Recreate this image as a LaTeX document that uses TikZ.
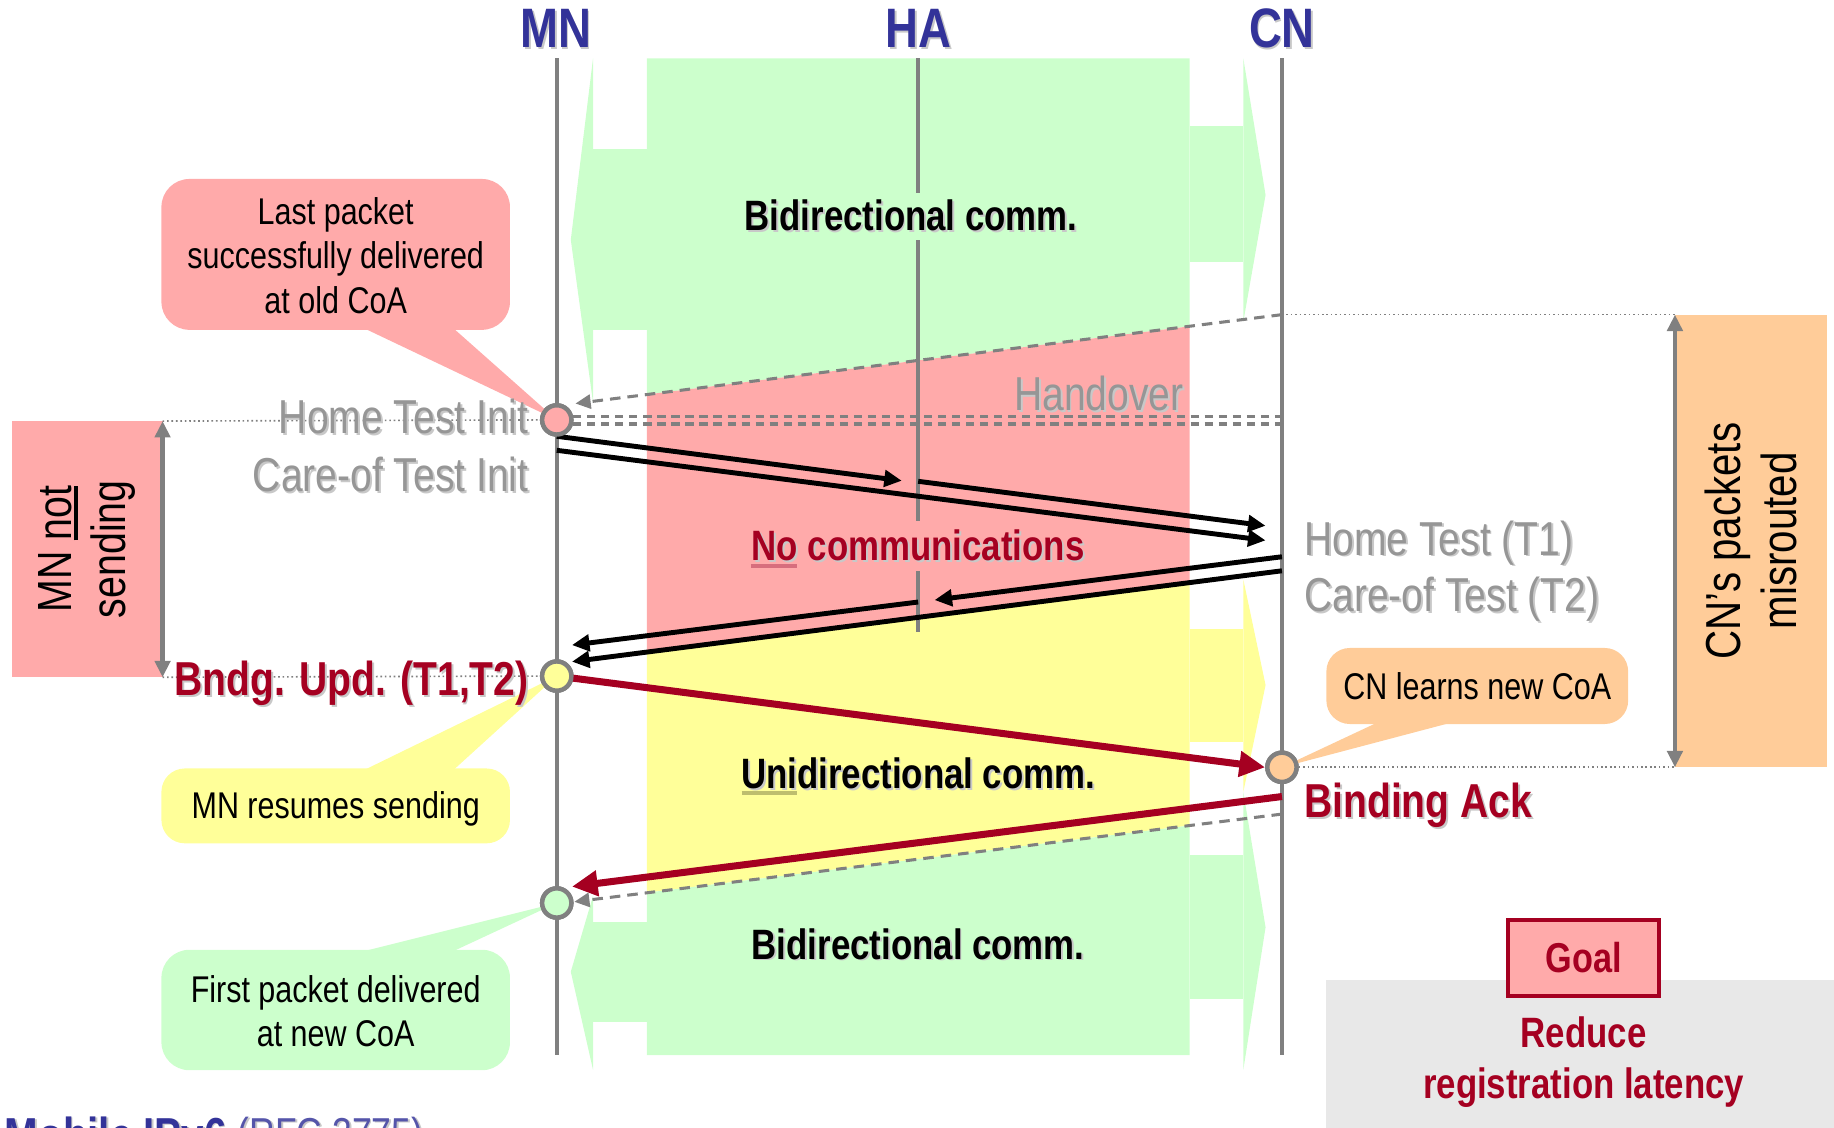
\documentclass[tikz,border=0pt]{standalone}
\usepackage{fontspec}
\setmainfont{Liberation Sans}[FakeStretch=0.82]
\usetikzlibrary{arrows.meta}

\definecolor{bandgreen}{RGB}{204,255,204}
\definecolor{bandred}{RGB}{255,170,170}
\definecolor{bandyellow}{RGB}{255,255,153}
\definecolor{bandorange}{RGB}{255,204,153}
\definecolor{darkred}{RGB}{165,0,33}
\definecolor{linegray}{RGB}{128,128,128}
\definecolor{labelgray}{RGB}{150,150,150}
\definecolor{shadegray}{RGB}{200,200,200}
\definecolor{headblue}{RGB}{51,51,153}
\definecolor{softblue}{RGB}{85,85,170}
\definecolor{goalgray}{RGB}{232,232,232}
\definecolor{nounder}{RGB}{215,110,125}
\definecolor{uniunder}{RGB}{190,190,110}

\newcommand\fsz[2]{\fontsize{#1}{#2}\selectfont}
% text with a soft drop shadow behind it
\newcommand\shadowtext[2]{\makebox[0pt][l]{\hspace{1.6pt}\raisebox{-1.6pt}{\textcolor{#1}{#2}}}#2}
% heavy underline
\newcommand\thickul[1]{\setbox0\hbox{#1}\rlap{\rule[-5pt]{\wd0}{2.8pt}}\box0}

\tikzset{
  lifeline/.style={draw=linegray, line width=3.6pt},
  msg/.style={line width=4.2pt, -{Triangle[length=15pt,width=14pt]}},
  redmsg/.style={draw=darkred, line width=6pt, -{Triangle[length=22pt,width=21pt]}},
  graydash/.style={draw=linegray, line width=2.6pt, dash pattern=on 9pt off 6pt, -{Triangle[length=13pt,width=12pt]}},
  dbldash/.style={draw=linegray, line width=2.6pt, dash pattern=on 7pt off 5pt},
  guide/.style={draw=linegray, line width=1.4pt, dash pattern=on 1.4pt off 2.4pt},
  span/.style={draw=linegray, line width=3.6pt, {Triangle[length=14pt,width=13pt]}-{Triangle[length=14pt,width=13pt]}},
  event/.style={circle, draw=linegray, line width=3.8pt, minimum size=25pt, inner sep=0pt},
  head/.style={text=headblue, font=\fsz{47.5}{52}\bfseries, inner sep=0pt, anchor=base},
  grayl/.style={text=labelgray, font=\fsz{40.7}{48}, inner sep=0pt},
  boldl/.style={font=\fsz{36.3}{44}\bfseries, inner sep=0pt, anchor=base},
  redl/.style={text=darkred, font=\fsz{40.7}{48}\bfseries, inner sep=0pt},
  callt/.style={font=\fsz{31.8}{38}, align=center, inner sep=0pt},
  sidebox/.style={rotate=90, font=\fsz{41}{46}, align=center, inner sep=0pt},
}

\begin{document}
\begin{tikzpicture}[x=1pt,y=-1pt]
\useasboundingbox (0,0) rectangle (1568,964);

% ---------- communication phases ----------
% upper bidirectional band
\fill[bandgreen] (553,50) -- (1017,50) -- (1017,279) -- (553,337.3) -- cycle;
\fill[bandgreen] (507,127) rectangle (553,282);
\fill[bandgreen] (507,50) -- (488,205) -- (507,344) -- cycle;
\fill[bandgreen] (1017,107.7) rectangle (1063,223.7);
\fill[bandgreen] (1063,50) -- (1082,166.7) -- (1063,275) -- cycle;
% no communication
\fill[bandred] (553,337.3) -- (1017,279) -- (1017,497.9) -- (553,557.5) -- cycle;
% unidirectional band
\fill[bandyellow] (553,557.5) -- (1017,497.9) -- (1017,705.8) -- (553,763.2) -- cycle;
\fill[bandyellow] (1017,537.5) rectangle (1063,634.7);
\fill[bandyellow] (1063,495.5) -- (1082,585.7) -- (1063,677) -- cycle;
% lower bidirectional band
\fill[bandgreen] (553,763.2) -- (1017,705.8) -- (1017,902) -- (553,902) -- cycle;
\fill[bandgreen] (507,788) rectangle (553,873.5);
\fill[bandgreen] (507,766) -- (488,830.8) -- (507,914.6) -- cycle;
\fill[bandgreen] (1017,731) rectangle (1063,854.5);
\fill[bandgreen] (1063,677) -- (1082,792.8) -- (1063,914.6) -- cycle;

% ---------- lifelines ----------
\coordinate (mnT) at (476,50);  \coordinate (mnB) at (476,902);
\coordinate (haT) at (785,50);  \coordinate (haB) at (785,540);
\coordinate (cnT) at (1096,50); \coordinate (cnB) at (1096,902);
\draw[lifeline] (mnT) -- (mnB);
\draw[lifeline] (haT) -- (haB);
\draw[lifeline] (cnT) -- (cnB);

\node[head] (mnh) at (475,41) {\shadowtext{shadegray}{MN}};
\node[head] (hah) at (785,41) {\shadowtext{shadegray}{HA}};
\node[head] (cnh) at (1096,41) {\shadowtext{shadegray}{CN}};

% ---------- phase labels ----------
\node[boldl, fill=bandgreen, inner xsep=4pt, inner ysep=6pt] (bidiA) at (779,197) {\shadowtext{shadegray}{Bidirectional comm.}};
\node[boldl, text=darkred, fill=bandred, inner xsep=4pt, inner ysep=7pt] (nocomm) at (785,479) {\shadowtext{shadegray}{No communications}};
\draw[nounder, line width=3pt] (642,484) -- (681,484);
\node[boldl] (unidi) at (785,674) {\shadowtext{shadegray}{Unidirectional comm.}};
\draw[uniunder, line width=3pt] (634,678) -- (681,678);
\node[boldl] (bidiB) at (785,820) {\shadowtext{shadegray}{Bidirectional comm.}};

% ---------- side spans ----------
\node[sidebox, fill=bandred, minimum width=219pt, minimum height=129pt] (notsend) at (74.5,469.5) {MN \thickul{not}\\sending};
\node[sidebox, fill=bandorange, minimum width=387pt, minimum height=130pt, font=\fsz{42}{48}] (misroute) at (1497,462.5) {CN’s packets\\misrouted};

% ---------- events on the lifelines ----------
\node[event, fill=bandred]    (ev1) at (476,359) {};
\node[event, fill=bandyellow] (ev2) at (476,578) {};
\node[event, fill=bandorange] (ev3) at (1096,656) {};
\node[event, fill=bandgreen]  (ev4) at (476,772) {};

% guide lines
\coordinate (lspanT) at (139,360);  \coordinate (lspanB) at (139,579);
\coordinate (rspanT) at (1432,269); \coordinate (rspanB) at (1432,656);
\coordinate (cnHo) at (1096,269);
\draw[guide] (lspanT) -- (ev1.west);
\draw[guide] (lspanB) -- (ev2.west);
\draw[guide] (cnHo) -- (rspanT);
\draw[guide] (ev3.east) -- (rspanB);
\draw[span] (lspanT) -- (lspanB);
\draw[span] (rspanT) -- (rspanB);

% handover moment
\coordinate (hoEnd) at (492,345);
\draw[graydash] (cnHo) -- (hoEnd);
\coordinate (ddA1) at (490,356); \coordinate (ddB1) at (1096,356);
\coordinate (ddA2) at (490,362.5); \coordinate (ddB2) at (1096,362.5);
\draw[dbldash] (ddA1) -- (ddB1);
\draw[dbldash] (ddA2) -- (ddB2);

% ---------- return routability ----------
\coordinate (hotiS) at (476,373);   \coordinate (hotiH) at (771,411);
\coordinate (hotiR) at (785,411.5); \coordinate (hotiE) at (1082,449.5);
\draw[msg] (hotiS) -- (hotiH);
\draw[msg] (hotiR) -- (hotiE);
\coordinate (cotiS) at (476,385);   \coordinate (cotiE) at (1082,462);
\draw[msg] (cotiS) -- (cotiE);
\coordinate (hotS) at (1096,476);   \coordinate (hotH) at (799,513);
\coordinate (hotR) at (785,514.7);  \coordinate (hotE) at (489,551.5);
\draw[msg] (hotS) -- (hotH);
\draw[msg] (hotR) -- (hotE);
\coordinate (cotS) at (1096,488);   \coordinate (cotE) at (489,565.7);
\draw[msg] (cotS) -- (cotE);

% ---------- binding ----------
\draw[redmsg] (ev2.center) -- (ev3.west);
\coordinate (baS) at (1096,681); \coordinate (baE) at (489,758);
\draw[redmsg] (baS) -- (baE);
\coordinate (dataS) at (1096,696); \coordinate (dataE) at (491,771);
\draw[graydash] (dataS) -- (dataE);

% ---------- callouts ----------
\fill[bandred, rounded corners=24pt] (138,153) rectangle (436,282);
\fill[bandred] (312,281) -- (388,281) -- (ev1.center) -- cycle;
\node[callt] (lastpkt) at (287,218.5) {Last packet\\successfully delivered\\at old CoA};

\fill[bandyellow, rounded corners=20pt] (138,657) rectangle (436,721);
\fill[bandyellow] (312,658) -- (388,658) -- (ev2.center) -- cycle;
\node[callt, anchor=base] (resume) at (287,700) {MN resumes sending};

\fill[bandgreen, rounded corners=24pt] (138,812) rectangle (436,915);
\fill[bandgreen] (312,813) -- (388,813) -- (ev4.center) -- cycle;
\node[callt] (firstpkt) at (287,864.4) {First packet delivered\\at new CoA};

\fill[bandorange, rounded corners=20pt] (1134,554) rectangle (1392,619);
\fill[bandorange] (1177,618) -- (1240,618) -- (ev3.center) -- cycle;
\node[callt, anchor=base] (learn) at (1263,598) {CN learns new CoA};

% redraw the event markers above the callout pointers
\node[event, fill=bandred]    at (ev1) {};
\node[event, fill=bandyellow] at (ev2) {};
\node[event, fill=bandorange] at (ev3) {};
\node[event, fill=bandgreen]  at (ev4) {};

% ---------- message labels ----------
\node[grayl, anchor=base east] (lhoti) at (452,371) {\shadowtext{shadegray}{Home Test Init}};
\node[grayl, anchor=base east] (lcoti) at (452,420) {\shadowtext{shadegray}{Care-of Test Init}};
\node[grayl, anchor=base east] (lho) at (1012,351) {\shadowtext{shadegray}{Handover}};
\node[grayl, anchor=base west] (lhot) at (1115,474.5) {\shadowtext{shadegray}{Home Test (T1)}};
\node[grayl, anchor=base west] (lcot) at (1115,523) {\shadowtext{shadegray}{Care-of Test (T2)}};
\node[redl, anchor=base east] (lbu) at (452,595) {\shadowtext{shadegray}{Bndg. Upd. (T1,T2)}};
\node[redl, anchor=base west] (lba) at (1115,699) {\shadowtext{shadegray}{Binding Ack}};

% ---------- goal ----------
\fill[goalgray] (1134,838) rectangle (1570,966);
\node[draw=darkred, line width=3.5pt, fill=bandred, minimum width=129pt, minimum height=65pt,
      text=darkred, font=\fsz{35.7}{40}\bfseries, inner sep=0pt] (goal) at (1354,818.8) {Goal};
\node[text=darkred, font=\fsz{36.3}{43}\bfseries, align=center, inner sep=0pt] (reduce) at (1354,908) {Reduce\\registration latency};

% ---------- title along the lower edge ----------
\node[text=headblue, font=\fsz{42}{48}, anchor=base west, inner sep=0pt] (title) at (4,985)
  {\shadowtext{shadegray}{\textbf{Mobile IPv6}} \raisebox{3.5pt}{\fsz{37}{40}\color{softblue}\shadowtext{shadegray}{(RFC 3775)}}};
\end{tikzpicture}
\end{document}
